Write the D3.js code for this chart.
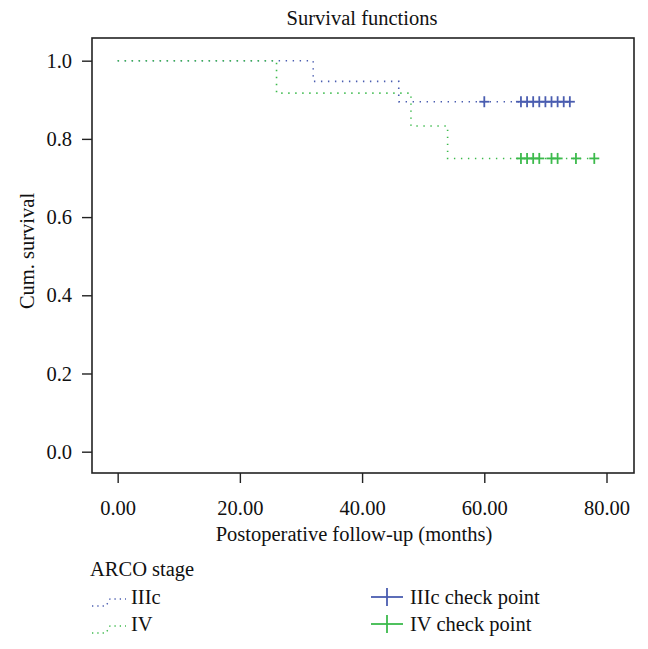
<!DOCTYPE html>
<html><head><meta charset="utf-8">
<script src="https://cdn.jsdelivr.net/npm/d3@7"></script>
<style>body{margin:0;background:#fff}text{font-family:"Liberation Serif","DejaVu Serif",serif;fill:#111}</style>
</head><body>
<script>
// Data
const iiicTimes = [0, 32, 46, 74];
const iiicSurv = [1.0, 0.947, 0.895, 0.895];
const ivTimes = [0, 26, 48, 54, 78];
const ivSurv = [1.0, 0.917, 0.833, 0.75, 0.75];
const iiicCensor = [60, 66, 67, 68, 69, 70, 71, 72, 73, 74];
const iiicCensorSurv = 0.895;
const ivCensor = [66, 67, 68, 69, 71, 72, 75, 78];
const ivCensorSurv = 0.75;
const xTicks = [0, 20, 40, 60, 80];
const yTicks = [0, 0.2, 0.4, 0.6, 0.8, 1.0];
const legendLines = ["IIIc", "IV"];
const legendChecks = ["IIIc check point", "IV check point"];

const blue = "#4a5db0", green = "#3cba4c";
const W = 648, H = 649;
const FS = 20.5;
const svg = d3.select("body").append("svg").attr("width", W).attr("height", H);
const L = 92, R = 634, T = 38, B = 473;
const x = d3.scaleLinear().domain([-4.2, 84.5]).range([L, R]);
const y = d3.scaleLinear().domain([-0.0545, 1.058]).range([B, T]);

// Frame
svg.append("rect").attr("x", L).attr("y", T).attr("width", R - L).attr("height", B - T)
  .attr("fill", "none").attr("stroke", "#222").attr("stroke-width", 1.6);

// Axes
const xAxis = svg.append("g").attr("transform", `translate(0,${B})`)
  .call(d3.axisBottom(x).tickValues(xTicks).tickFormat(d3.format(".2f")).tickSize(10).tickPadding(17));
const yAxis = svg.append("g").attr("transform", `translate(${L},0)`)
  .call(d3.axisLeft(y).tickValues(yTicks).tickFormat(d3.format(".1f")).tickSize(10).tickPadding(10));
[xAxis, yAxis].forEach(g => {
  g.select(".domain").remove();
  g.selectAll("line").attr("stroke", "#222").attr("stroke-width", 1.4);
  g.selectAll("text").attr("font-family", "Liberation Serif").attr("font-size", FS).attr("fill", "#111");
});

// Titles
svg.append("text").attr("x", 362).attr("y", 25).attr("text-anchor", "middle").attr("font-size", FS).text("Survival functions");
svg.append("text").attr("x", 354).attr("y", 541).attr("text-anchor", "middle").attr("font-size", FS).text("Postoperative follow-up (months)");
svg.append("text").attr("transform", "translate(34,251) rotate(-90)").attr("text-anchor", "middle").attr("font-size", FS).text("Cum. survival");

// Curves
const line = d3.line().x(d => x(d[0])).y(d => y(d[1])).curve(d3.curveStepAfter);
svg.append("path").attr("d", line(iiicTimes.map((t, i) => [t, iiicSurv[i]])))
  .attr("fill", "none").attr("stroke", blue).attr("stroke-width", 1.6).attr("stroke-dasharray", "1.4,5.6");
svg.append("path").attr("d", line(ivTimes.map((t, i) => [t, ivSurv[i]])))
  .attr("fill", "none").attr("stroke", green).attr("stroke-width", 1.6).attr("stroke-dasharray", "1.4,5.6");

// Censor marks
function plus(g, cx, cy, hw, hh, col, sw) {
  g.append("line").attr("x1", cx - hw).attr("x2", cx + hw).attr("y1", cy).attr("y2", cy).attr("stroke", col).attr("stroke-width", sw);
  g.append("line").attr("x1", cx).attr("x2", cx).attr("y1", cy - hh).attr("y2", cy + hh).attr("stroke", col).attr("stroke-width", sw);
}
const cg = svg.append("g");
iiicCensor.forEach(t => plus(cg, x(t), y(iiicCensorSurv), 5, 5.5, blue, 1.8));
ivCensor.forEach(t => plus(cg, x(t), y(ivCensorSurv), 5, 5.5, green, 1.8));

// Legend
svg.append("text").attr("x", 90).attr("y", 576).attr("font-size", FS).text("ARCO stage");
[blue, green].forEach((c, i) => {
  const by = 604 + i * 27;
  svg.append("path").attr("d", `M92,${by + 2}L106,${by + 2}L110,${by - 5}L126,${by - 5}`)
    .attr("fill", "none").attr("stroke", c).attr("stroke-width", 1.4).attr("stroke-dasharray", "1.3,4");
  svg.append("text").attr("x", 131).attr("y", by).attr("font-size", FS).text(legendLines[i]);
  plus(svg, 387, by - 7, 16, 9, c, 1.8);
  svg.append("text").attr("x", 410).attr("y", by).attr("font-size", FS).text(legendChecks[i]);
});
</script>
</body></html>
